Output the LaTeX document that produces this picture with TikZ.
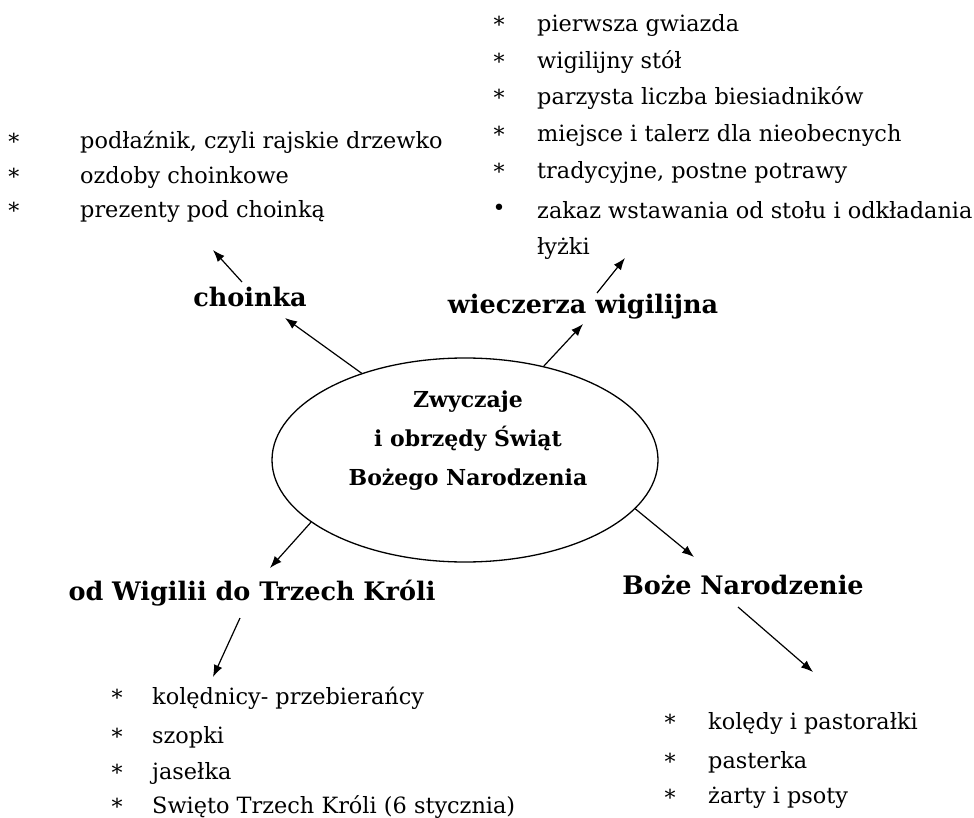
\documentclass[tikz,border=0pt]{standalone}
\usepackage{fontspec}
\setmainfont{DejaVu Serif}
\usetikzlibrary{shapes.geometric,arrows.meta}
\begin{document}
\begin{tikzpicture}[x=1pt,y=-1pt,
  item/.style={anchor=west,inner sep=0pt,font=\fontsize{22.4}{26}\selectfont},
  star/.style={anchor=center,inner sep=0pt,font=\fontsize{22}{25}\selectfont},
  lbl/.style={inner sep=0pt,font=\fontsize{25.5}{30}\selectfont\bfseries},
  arr/.style={-{Latex[length=12pt,width=9pt]},line width=1.2pt},
  ellbox/.style={ellipse,draw,line width=1.3pt,minimum width=386pt,minimum height=204pt,inner sep=0pt}]
\useasboundingbox (0,0) rectangle (974,818);
% centre
\node[ellbox] (ell) at (465,460) {};
\node[inner sep=0pt,align=center,font=\fontsize{22}{39}\selectfont\bfseries] (title) at (468,441)
  {Zwyczaje\\ i obrzędy Świąt\\Bożego Narodzenia};
% labels
\node[lbl] (choinka) at (250,297) {choinka};
\node[lbl] (wiecz) at (583,307) {wieczerza wigilijna};
\node[lbl] (odwig) at (252,593) {od Wigilii do Trzech Króli};
\node[lbl] (boze) at (743,585) {Boże Narodzenie};
% top-left list
\node[star] (s11) at (14,141) {*};
\node[star] (s12) at (14,176) {*};
\node[star] (s13) at (14,210) {*};
\node[item] (t11) at (80,142) {podłaźnik, czyli rajskie drzewko};
\node[item] (t12) at (80,177) {ozdoby choinkowe};
\node[item] (t13) at (80,211) {prezenty pod choinką};
% top-right list
\node[star] (s21) at (499,24) {*};
\node[star] (s22) at (499,61) {*};
\node[star] (s23) at (499,97) {*};
\node[star] (s24) at (499,134) {*};
\node[star] (s25) at (499,171) {*};
\node[star] (s26) at (499,210) {•};
\node[item] (t21) at (537,25) {pierwsza gwiazda};
\node[item] (t22) at (537,62) {wigilijny stół};
\node[item] (t23) at (537,98) {parzysta liczba biesiadników};
\node[item] (t24) at (537,135) {miejsce i talerz dla nieobecnych};
\node[item] (t25) at (537,172) {tradycyjne, postne potrawy};
\node[item] (t26) at (537,210) {zakaz wstawania od stołu i odkładania};
\node[item] (t27) at (537,248) {łyżki};
% bottom-left list
\node[star] (s31) at (117,697) {*};
\node[star] (s32) at (117,736) {*};
\node[star] (s33) at (117,772) {*};
\node[star] (s34) at (117,806) {*};
\node[item] (t31) at (152,698) {kolędnicy- przebierańcy};
\node[item] (t32) at (152,737) {szopki};
\node[item] (t33) at (152,773) {jasełka};
\node[item] (t34) at (152,807) {Swięto Trzech Króli (6 stycznia)};
% bottom-right list
\node[star] (s41) at (670,722) {*};
\node[star] (s42) at (670,761) {*};
\node[star] (s43) at (670,797) {*};
\node[item] (t41) at (708,723) {kolędy i pastorałki};
\node[item] (t42) at (708,762) {pasterka};
\node[item] (t43) at (708,798) {żarty i psoty};
% arrow end points
\coordinate (a1) at (285,318);
\coordinate (b2) at (242,282);
\coordinate (a2) at (213,250);
\coordinate (a3) at (583,324);
\coordinate (b4) at (597,293);
\coordinate (a4) at (625,258);
\coordinate (a5) at (270,568);
\coordinate (b6) at (240,618);
\coordinate (a6) at (213,677);
\coordinate (a7) at (694,557);
\coordinate (b8) at (738,607);
\coordinate (a8) at (813,672);
% arrows
\draw[arr] (ell.140) -- (a1);
\draw[arr] (b2) -- (a2);
\draw[arr] (ell.50) -- (a3);
\draw[arr] (b4) -- (a4);
\draw[arr] (ell.202) -- (a5);
\draw[arr] (b6) -- (a6);
\draw[arr] (ell.-16) -- (a7);
\draw[arr] (b8) -- (a8);
\end{tikzpicture}
\end{document}
